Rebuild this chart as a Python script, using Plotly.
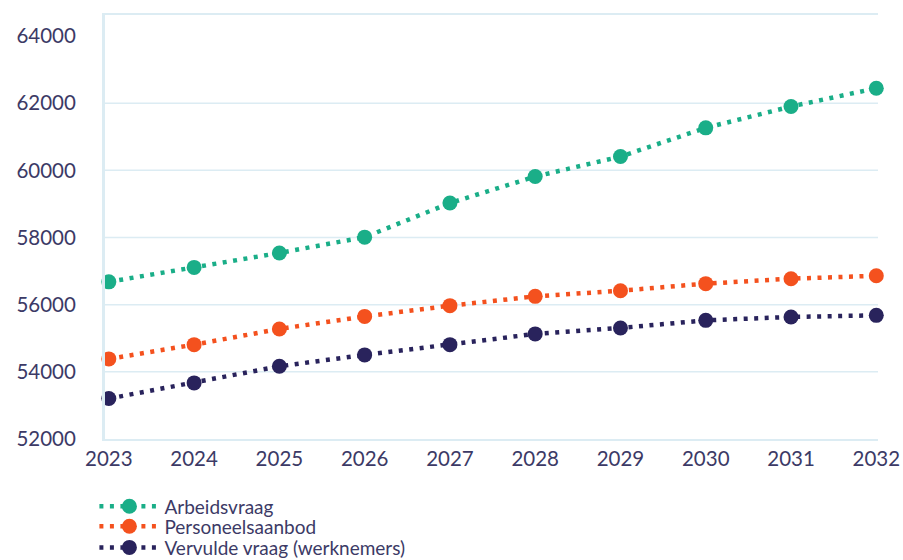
import plotly.graph_objects as go

years = [2023, 2024, 2025, 2026, 2027, 2028, 2029, 2030, 2031, 2032]
arbeidsvraag = [56680, 57110, 57540, 58010, 59025, 59815, 60410, 61265, 61900, 62445]
personeelsaanbod = [54385, 54810, 55277, 55650, 55970, 56247, 56416, 56625, 56773, 56862]
vervulde_vraag = [53204, 53671, 54165, 54504, 54810, 55129, 55307, 55533, 55634, 55682]

series_names = ["Arbeidsvraag", "Personeelsaanbod", "Vervulde vraag (werknemers)"]
series_colors = ["#1aae88", "#f4511e", "#29235c"]
y_ticks = [52000, 54000, 56000, 58000, 60000, 62000, 64000]
grid_values = [54000, 56000, 58000, 60000, 62000]

TEXT = "#3c3a66"
AXIS = "#dcecf3"
FONT = "Lato, 'Noto Sans', sans-serif"

legend_ids = ["legend", "legend2", "legend3"]
legend_rows = [-0.159, -0.206, -0.256]

fig = go.Figure()
for name, vals, col, lid in zip(series_names, [arbeidsvraag, personeelsaanbod, vervulde_vraag],
                                series_colors, legend_ids):
    fig.add_trace(go.Scatter(
        x=years, y=vals, name=name, mode="lines+markers",
        line=dict(color=col, width=4.5, dash="4px,6.5px"),
        marker=dict(color=col, size=15),
        cliponaxis=False, legend=lid,
    ))

shapes = [dict(type="line", xref="paper", x0=0, x1=1, yref="y", y0=v, y1=v,
               line=dict(color=AXIS, width=1.5), layer="below") for v in grid_values]

legend_common = dict(x=-0.0137, xanchor="left", yanchor="middle", orientation="v",
                     font=dict(size=19, color=TEXT), itemwidth=60,
                     bgcolor="rgba(0,0,0,0)")
layout_legends = {lid: dict(legend_common, y=yv) for lid, yv in zip(legend_ids, legend_rows)}

fig.update_layout(
    width=903, height=560,
    margin=dict(l=105, r=25, t=15, b=120.5, autoexpand=False),
    paper_bgcolor="white", plot_bgcolor="white",
    font=dict(family=FONT, color=TEXT, size=20.5),
    shapes=shapes,
    xaxis=dict(
        range=[2022.955, 2032.02], tickvals=years, ticktext=[str(y) for y in years],
        showgrid=False, zeroline=False, showline=True, linecolor=AXIS, linewidth=2, mirror=True,
        tickfont=dict(size=20.5, color=TEXT), ticks="",
    ),
    yaxis=dict(
        range=[52000, 64625], tickvals=y_ticks, ticktext=[str(v) for v in y_ticks],
        showgrid=False, zeroline=False, showline=True, linecolor=AXIS, linewidth=3,
        tickfont=dict(size=20.5, color=TEXT), ticks="", ticklabelstandoff=22,
    ),
    showlegend=True,
    **layout_legends,
)

fig.write_html("out.html", config={"displayModeBar": False},
               post_script="document.body.style.margin='0';document.body.style.overflow='hidden';")
